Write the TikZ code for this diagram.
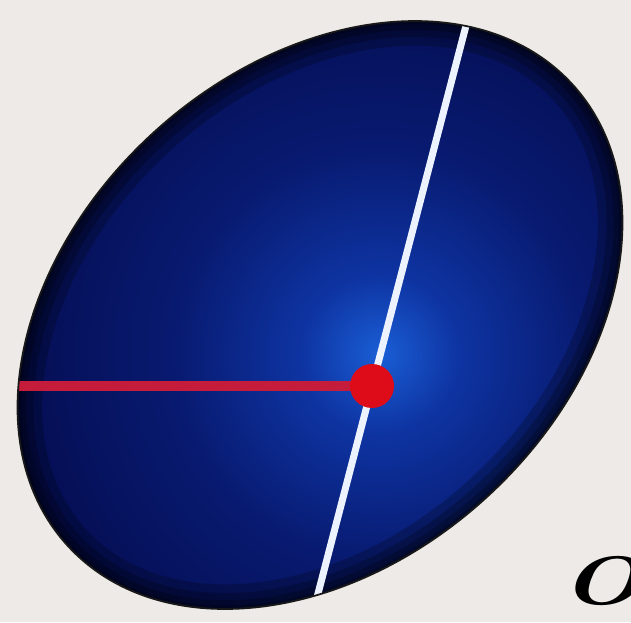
\documentclass[tikz,border=0pt]{standalone}
\usetikzlibrary{positioning}
\definecolor{paper}{RGB}{237,234,231}
\definecolor{lensbright}{RGB}{26,94,214}
\definecolor{lenslight}{RGB}{14,52,162}
\definecolor{lensmid}{RGB}{8,26,112}
\definecolor{lensdeep}{RGB}{5,14,84}
\definecolor{lensdark}{RGB}{3,8,62}
\definecolor{radiusred}{RGB}{196,28,58}
\definecolor{dotred}{RGB}{222,12,24}
\definecolor{axiswhite}{RGB}{236,243,255}
\pgfdeclareradialshading{lensglow}{\pgfpoint{0bp}{0bp}}{%
  color(0bp)=(lensbright); color(3bp)=(lenslight); color(8bp)=(lensmid);
  color(14bp)=(lensdeep); color(22bp)=(lensdark); color(50bp)=(lensdark)}
\tikzset{
  lens/.style={draw=black!90, line width=1pt},
  rim/.style={draw=black, opacity=0.22},
  diameter/.style={draw=axiswhite, line width=4pt},
  radiusline/.style={draw=radiusred, line width=5.5pt},
  centre/.style={circle, fill=dotred, inner sep=0pt, minimum size=0.88cm},
}

\begin{document}
\begin{tikzpicture}[x=0.02cm, y=0.02cm]
% paper
\fill[paper] (0,0) rectangle (631,622);
\useasboundingbox (0,0) rectangle (631,622);
% points
\coordinate (C) at (320,307);
\coordinate (O) at (372,236);
\coordinate (T) at (480,650);
\coordinate (B) at (308,-10);
\coordinate (L) at (-10,236);
% lens
\begin{scope}
  \clip[rotate around={42.4:(C)}] (C) ellipse [x radius=6.84cm, y radius=4.94cm];
  \shade[shading=lensglow] (380,268) circle (13cm);
  % soft dark edge
  \foreach \w in {28,18,10,4}
    \draw[rim, line width=\w pt, rotate around={42.4:(C)}] (C) ellipse [x radius=6.84cm, y radius=4.94cm];
  \draw[diameter] (B) -- (T);
  \draw[radiusline] (L) -- (O);
\end{scope}
\draw[lens, rotate around={42.4:(C)}] (C) ellipse [x radius=6.84cm, y radius=4.94cm];
\node[centre] (o) at (O) {};
% label, cut by the edge
\node[inner sep=0pt, anchor=south west, font=\fontsize{39}{39}\selectfont\bfseries\itshape]
  (lbl) at (560,16) {\scalebox{1.4}[1]{O}};
\end{tikzpicture}
\end{document}
